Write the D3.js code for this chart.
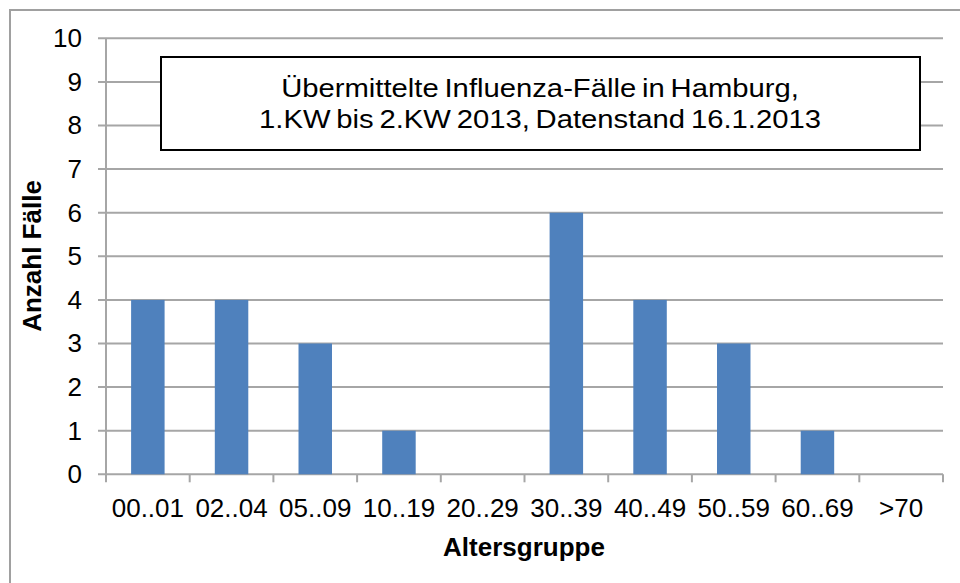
<!DOCTYPE html>
<html>
<head>
<meta charset="utf-8">
<style>
  body { margin: 0; background: #fff; }
  svg { display: block; font-family: "Liberation Sans", Arial, sans-serif; }
  .tick text { font-size: 26px; fill: #000; }
  .axis-title { font-size: 26px; font-weight: bold; fill: #000; }
</style>
</head>
<body>
<svg width="960" height="583"></svg>
<script src="https://d3js.org/d3.v7.min.js"></script>
<script>
  // Altersgruppen und Fallzahlen
  let groups = ["00..01", "02..04", "05..09", "10..19", "20..29", "30..39", "40..49", "50..59", "60..69", ">70"];
  let cases = [4, 4, 3, 1, 0, 6, 4, 3, 1, 0];
  let yTicks = [0, 1, 2, 3, 4, 5, 6, 7, 8, 9, 10];
  let titleLines = ["Übermittelte Influenza-Fälle in Hamburg,", "1.KW bis 2.KW 2013, Datenstand 16.1.2013"];

  let svg = d3.select("svg");
  let plot = { left: 106, right: 943, top: 38.3, bottom: 474.3 };

  // outer frame (only left/top visible)
  svg.append("rect")
    .attr("x", 10).attr("y", 10)
    .attr("width", 980).attr("height", 600)
    .attr("fill", "none")
    .attr("stroke", "#a0a0a0")
    .attr("stroke-width", 2);

  let x = d3.scaleBand()
    .domain(groups)
    .range([plot.left, plot.right])
    .paddingInner(0.6)
    .paddingOuter(0.3);

  let y = d3.scaleLinear()
    .domain([0, 10])
    .range([plot.bottom, plot.top]);

  // gridlines
  svg.append("g")
    .selectAll("line")
    .data(yTicks)
    .join("line")
    .attr("x1", plot.left - 8)
    .attr("x2", plot.right)
    .attr("y1", d => y(d))
    .attr("y2", d => y(d))
    .attr("stroke", "#a6a6a6")
    .attr("stroke-width", 2);

  // y axis line
  svg.append("line")
    .attr("x1", plot.left).attr("x2", plot.left)
    .attr("y1", plot.top).attr("y2", plot.bottom)
    .attr("stroke", "#a6a6a6")
    .attr("stroke-width", 2);

  // bars
  svg.append("g")
    .selectAll("rect")
    .data(cases)
    .join("rect")
    .attr("x", (d, i) => x(groups[i]))
    .attr("width", x.bandwidth())
    .attr("y", d => y(d))
    .attr("height", d => y(0) - y(d))
    .attr("fill", "#4f81bd");

  // x ticks between categories
  let step = x.step();
  svg.append("g")
    .selectAll("line")
    .data(d3.range(groups.length + 1))
    .join("line")
    .attr("x1", i => plot.left + i * step)
    .attr("x2", i => plot.left + i * step)
    .attr("y1", plot.bottom)
    .attr("y2", plot.bottom + 8)
    .attr("stroke", "#a6a6a6")
    .attr("stroke-width", 2);

  // x axis labels
  let xAxis = svg.append("g")
    .attr("transform", `translate(0,${plot.bottom})`)
    .call(d3.axisBottom(x).tickSize(0).tickPadding(24));
  xAxis.select(".domain").remove();

  // y axis labels
  let yAxis = svg.append("g")
    .attr("transform", `translate(${plot.left},0)`)
    .call(d3.axisLeft(y).tickValues(yTicks).tickSize(0).tickPadding(24));
  yAxis.select(".domain").remove();

  // axis titles
  svg.append("text")
    .attr("class", "axis-title")
    .attr("x", 524).attr("y", 556)
    .attr("text-anchor", "middle")
    .text("Altersgruppe");

  svg.append("text")
    .attr("class", "axis-title")
    .attr("transform", "translate(41,256) rotate(-90)")
    .attr("text-anchor", "middle")
    .text("Anzahl Fälle");

  // title box
  svg.append("rect")
    .attr("x", 161).attr("y", 57)
    .attr("width", 759).attr("height", 93)
    .attr("fill", "#fff")
    .attr("stroke", "#000")
    .attr("stroke-width", 2);

  svg.append("g")
    .selectAll("text")
    .data(titleLines)
    .join("text")
    .attr("transform", (d, i) => `translate(540,${97 + i * 31}) scale(1.17,1)`)
    .attr("text-anchor", "middle")
    .attr("font-size", 25)
    .attr("word-spacing", -2)
    .text(d => d);
</script>
</body>
</html>
